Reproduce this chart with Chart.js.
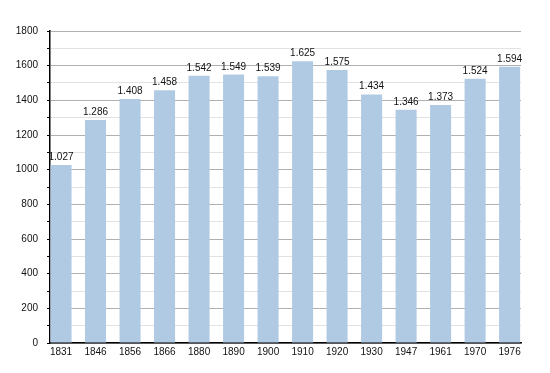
<!DOCTYPE html>
<html>
<head>
<meta charset="utf-8">
<script src="https://cdn.jsdelivr.net/npm/chart.js@4"></script>
<style>
  html, body { margin: 0; padding: 0; background: #fff; }
</style>
</head>
<body>
<canvas id="myChart" width="550" height="373"></canvas>
<script>
const years = ["1831", "1846", "1856", "1866", "1880", "1890", "1900", "1910", "1920", "1930", "1947", "1961", "1970", "1976"];
const population = [1027, 1286, 1408, 1458, 1542, 1549, 1539, 1625, 1575, 1434, 1346, 1373, 1524, 1594];
const yTicks = [0, 100, 200, 300, 400, 500, 600, 700, 800, 900, 1000, 1100, 1200, 1300, 1400, 1500, 1600, 1700, 1800];

const FONT = "'Liberation Sans', Arial, sans-serif";

// thousands separator like the original (1.027)
function fmt(v) {
  return String(v).replace(/\B(?=(\d{3})+(?!\d))/g, ".");
}

const barLabels = {
  id: "barLabels",
  afterDatasetsDraw(chart) {
    const ctx = chart.ctx;
    const meta = chart.getDatasetMeta(0);
    ctx.save();
    ctx.font = "10px " + FONT;
    ctx.fillStyle = "#111";
    ctx.textAlign = "center";
    ctx.textBaseline = "alphabetic";
    meta.data.forEach((bar, i) => {
      ctx.fillText(fmt(population[i]), bar.x, bar.y - 5);
    });
    ctx.restore();
  }
};

const ctx = document.getElementById("myChart").getContext("2d");
new Chart(ctx, {
  type: "bar",
  data: {
    datasets: [{
      data: population.map((v, i) => ({ x: i, y: v })),
      backgroundColor: "#b1cae4",
      borderWidth: 0,
      barPercentage: 0.61,
      categoryPercentage: 1
    }]
  },
  options: {
    responsive: false,
    animation: false,
    layout: { padding: { top: 31, right: 29, bottom: 0, left: 0 } },
    plugins: {
      legend: { display: false },
      tooltip: { enabled: false }
    },
    scales: {
      x: {
        type: "linear",
        min: -0.32,
        max: 13.33,
        offset: false,
        grid: { display: false, drawTicks: false, offset: false },
        border: { color: "#000", width: 1.5 },
        afterBuildTicks(scale) {
          scale.ticks = years.map((y, i) => ({ value: i }));
        },
        ticks: {
          color: "#111",
          padding: 3,
          maxRotation: 0,
          autoSkip: false,
          font: { family: FONT, size: 10 },
          callback: (v, i) => years[i]
        },
        afterFit(scale) { scale.height = 30; }
      },
      y: {
        min: 0,
        max: 1800,
        border: { color: "#000", width: 1.5 },
        afterBuildTicks(scale) {
          scale.ticks = yTicks.map(v => ({ value: v }));
        },
        grid: {
          color: c => (c.tick && c.tick.value % 200 === 0 ? "#b0b0b0" : "#e2e2e2"),
          tickColor: "#000",
          tickLength: 3
        },
        ticks: {
          color: "#111",
          padding: 9,
          autoSkip: false,
          font: { family: FONT, size: 10 },
          callback: v => (v % 200 === 0 ? v : "")
        },
        afterFit(scale) { scale.width = 50; }
      }
    }
  },
  plugins: [barLabels]
});
</script>
</body>
</html>
